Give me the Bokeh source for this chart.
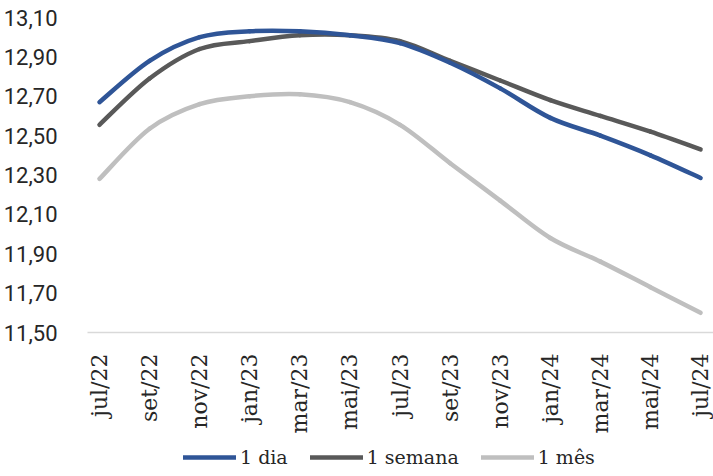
import numpy as np
from bokeh.plotting import figure
from bokeh.layouts import column
from bokeh.models import FixedTicker, Legend, LegendItem
from bokeh.embed import file_html
from bokeh.resources import INLINE

categories = ["jul/22", "set/22", "nov/22", "jan/23", "mar/23", "mai/23", "jul/23",
              "set/23", "nov/23", "jan/24", "mar/24", "mai/24", "jul/24"]
dia = [12.67, 12.88, 13.00, 13.03, 13.03, 13.01, 12.97, 12.87, 12.74, 12.59, 12.50, 12.40, 12.285]
semana = [12.555, 12.79, 12.94, 12.98, 13.01, 13.01, 12.98, 12.88, 12.78, 12.68, 12.60, 12.52, 12.43]
mes = [12.28, 12.535, 12.66, 12.70, 12.71, 12.67, 12.555, 12.36, 12.17, 11.98, 11.86, 11.73, 11.60]
y_ticks = [11.5, 11.7, 11.9, 12.1, 12.3, 12.5, 12.7, 12.9, 13.1]

SERIF = "DejaVu Serif"
SANS = "Roboto"
TXT = "#262626"
series = [("1 dia", dia, "#2F5597"), ("1 semana", semana, "#595959"), ("1 mês", mes, "#BFBFBF")]


def bezier_parts(vals):
    y = np.asarray(vals, dtype=float)
    x = np.arange(len(y), dtype=float)
    n = len(y)
    idx = np.arange(n - 1)
    im1 = np.clip(idx - 1, 0, n - 1)
    ip2 = np.clip(idx + 2, 0, n - 1)
    cx0 = x[idx] + (x[idx + 1] - x[im1]) / 6
    cy0 = y[idx] + (y[idx + 1] - y[im1]) / 6
    cx1 = x[idx + 1] - (x[ip2] - x[idx]) / 6
    cy1 = y[idx + 1] - (y[ip2] - y[idx]) / 6
    return dict(x0=x[idx], y0=y[idx], x1=x[idx + 1], y1=y[idx + 1],
                cx0=cx0, cy0=cy0, cx1=cx1, cy1=cy1)


def draw(fig, i):
    name, vals, col = series[i]
    d = bezier_parts(vals)
    return fig.bezier(x0=d["x0"], y0=d["y0"], x1=d["x1"], y1=d["y1"],
                      cx0=d["cx0"], cy0=d["cy0"], cx1=d["cx1"], cy1=d["cy1"],
                      line_color=col, line_width=4.5, line_cap="round")


# main chart
p = figure(width=713, height=440, output_backend="svg", toolbar_location=None,
           x_range=(-0.239, 12.258), y_range=(11.5, 13.1),
           min_border_left=86, min_border_right=0, min_border_top=17, min_border_bottom=108)
p.outline_line_color = None
p.xgrid.visible = False
p.ygrid.visible = False
for i in [2, 1, 0]:
    draw(p, i)

p.xaxis.ticker = FixedTicker(ticks=list(range(len(categories))))
p.xaxis.major_label_overrides = {i: c for i, c in enumerate(categories)}
p.xaxis.major_label_orientation = np.pi / 2
p.xaxis.axis_line_color = "#D9D9D9"
p.xaxis.axis_line_width = 1.5
p.xaxis.major_tick_line_color = None
p.xaxis.minor_tick_line_color = None
p.xaxis.major_label_standoff = 15
p.xaxis.major_label_text_font = SERIF
p.xaxis.major_label_text_font_size = "22px"
p.xaxis.major_label_text_color = TXT

p.yaxis.ticker = FixedTicker(ticks=y_ticks)
p.yaxis.major_label_overrides = {t: f"{t:.2f}".replace(".", ",") for t in y_ticks}
p.yaxis.axis_line_color = None
p.yaxis.major_tick_line_color = None
p.yaxis.minor_tick_line_color = None
p.yaxis.major_label_standoff = 24
p.yaxis.major_label_text_font = SANS
p.yaxis.major_label_text_font_size = "22px"
p.yaxis.major_label_text_color = TXT

# legend strip (its series are drawn outside the visible range; only the legend shows)
pl = figure(width=713, height=36, output_backend="svg", toolbar_location=None,
            x_range=(0, 1), y_range=(100, 101), min_border=0)
pl.axis.visible = False
pl.grid.visible = False
pl.outline_line_color = None
lrends = {i: draw(pl, i) for i in range(3)}
items = [LegendItem(label=series[i][0], renderers=[lrends[i]]) for i in range(3)]
legend = Legend(items=items, location=(96, 8), orientation="horizontal",
                border_line_color=None, background_fill_alpha=0,
                padding=0, margin=0, spacing=22, label_standoff=4,
                glyph_width=53, glyph_height=20, label_height=20,
                label_text_font=SERIF, label_text_font_size="19px",
                label_text_color=TXT)
pl.add_layout(legend, "center")

layout = column(p, pl, spacing=0)
open("out.html", "w").write(file_html(layout, INLINE))
